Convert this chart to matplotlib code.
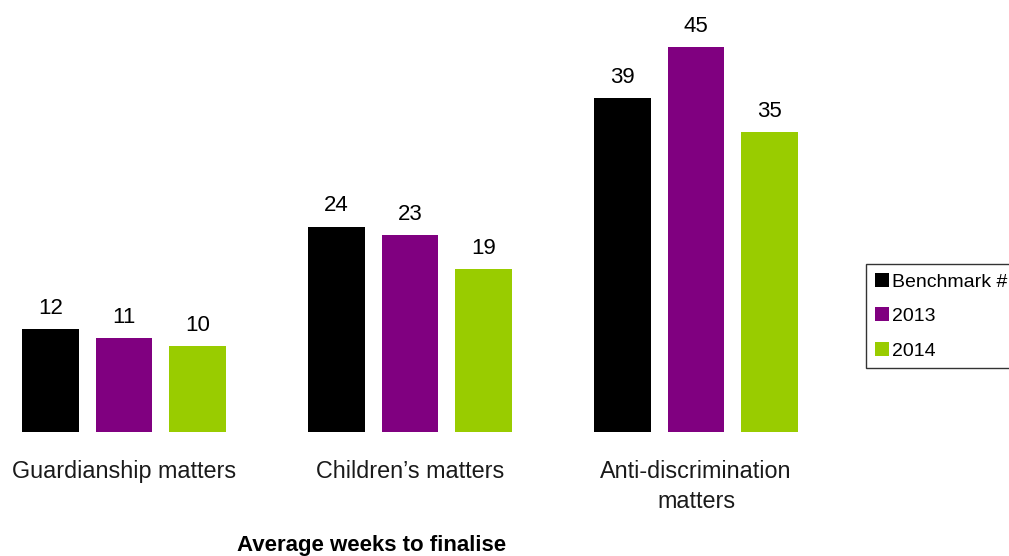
import numpy as np
import matplotlib.pyplot as plt
from matplotlib.patches import Patch

plt.rcParams['font.family'] = ['Liberation Sans', 'DejaVu Sans']

categories = ["Guardianship matters", "Children\u2019s matters", "Anti-discrimination\nmatters"]
series_names = ["Benchmark #", "2013", "2014"]
benchmark = [12, 24, 39]
y2013 = [11, 23, 45]
y2014 = [10, 19, 35]
colors = ["#000000", "#800080", "#99CC00"]

W, H = 1009, 556
fig = plt.figure(figsize=(W / 100, H / 100), dpi=100)
# axes spans px 0..840 horizontally, baseline at px 432
ax = fig.add_axes([0, 1 - 432 / H, 840 / W, 428 / H])
ax.set_xlim((0 - 124) / 286, (840 - 124) / 286)
ax.set_ylim(0, 428 / 8.56)

x = np.arange(len(categories))
offset = 73.5 / 286
width = 56.5 / 286
for i, (vals, c) in enumerate(zip([benchmark, y2013, y2014], colors)):
    pos = x + (i - 1) * offset
    bars = ax.bar(pos, vals, width, color=c)
    for b, v in zip(bars, vals):
        ax.text(b.get_x() + b.get_width() / 2, v + 1.2, str(v),
                ha='center', va='bottom', fontsize=16)

ax.axis('off')

for xi, cat in zip(x, categories):
    ax.text(xi, -3.3, cat, ha='center', va='top', fontsize=16.8,
            linespacing=1.4, color='#1a1a1a')

fig.text(372 / W, 1 - 546 / H, "Average weeks to finalise", ha='center',
         va='center', fontsize=16, fontweight='bold')

handles = [Patch(facecolor=c, edgecolor='none') for c in colors]
leg = fig.legend(handles, series_names, loc='upper left',
                 bbox_to_anchor=(866 / W, 1 - 264 / H), fontsize=14,
                 frameon=True, fancybox=False, handlelength=0.75,
                 handleheight=0.75, handletextpad=0.15, labelspacing=0.85,
                 borderpad=0.45, borderaxespad=0)
leg.get_frame().set_edgecolor('black')
leg.get_frame().set_linewidth(1)

fig.savefig('out.png', dpi=100)
